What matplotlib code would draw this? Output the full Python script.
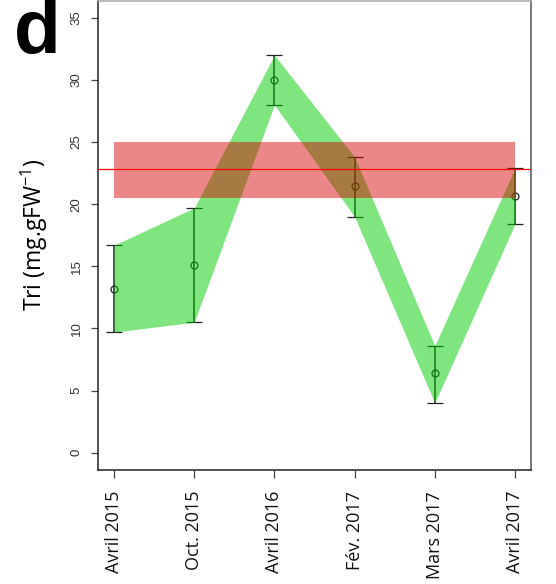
import numpy as np
import matplotlib
matplotlib.use("Agg")
import matplotlib.pyplot as plt
from matplotlib.patches import Rectangle

plt.rcParams['font.family'] = ['Open Sans', 'DejaVu Sans']
plt.rcParams['mathtext.fontset'] = 'custom'
plt.rcParams['mathtext.rm'] = 'Open Sans'

# data
dates = ['Avril 2015', 'Oct. 2015', 'Avril 2016', 'Fév. 2017', 'Mars 2017', 'Avril 2017']
means = [13.2, 15.1, 30.0, 21.5, 6.4, 20.7]
lower = [9.7, 10.5, 28.0, 19.0, 4.0, 18.4]
upper = [16.7, 19.7, 32.0, 23.8, 8.6, 22.9]
ref_low, ref_high = 20.5, 25.0
ref_mean = 22.8

x = np.arange(1, len(dates) + 1)
means = np.array(means)
lower = np.array(lower)
upper = np.array(upper)

fig = plt.figure(figsize=(5.56, 5.84), dpi=100)
ax = fig.add_axes([98/556, 1 - 470/584, 433/556, 469.5/584])

# error bars first (the green band sits on top of them)
ax.errorbar(x, means, yerr=[means - lower, upper - means], fmt='o', mfc='none',
            mec='#222222', ms=5, mew=0.9, ecolor='#222222', elinewidth=1.1,
            capsize=5.5, capthick=1.1, zorder=1)

ax.fill_between(x, lower, upper, color=(0, 0.8, 0), alpha=0.5, lw=0, zorder=2)

ax.add_patch(Rectangle((x[0], ref_low), x[-1] - x[0], ref_high - ref_low,
                       facecolor=(0.84, 0, 0), alpha=0.47, lw=0, zorder=3))
ax.axhline(ref_mean, color='red', lw=0.9, zorder=4)

ax.set_xlim(0.8, 6.2)
ax.set_ylim(-1.4, 36.4)
ax.set_xticks(x)
ax.set_xticklabels(dates, rotation=90, fontsize=13, color='#111111')
ax.set_yticks(np.arange(0, 36, 5))
ax.set_yticklabels([str(v) for v in range(0, 36, 5)], rotation=90, va='center',
                   fontsize=9.5, color='#333333', family='Liberation Sans')
ax.tick_params(axis='x', length=6, width=0.9, pad=9, color='#444444')
ax.tick_params(axis='y', length=5, width=0.9, pad=6, color='#444444')
for s in ['left', 'bottom']:
    ax.spines[s].set_color('#222222')
ax.spines['right'].set_color('#555555')
ax.spines['top'].set_color('#aaaaaa')
for s in ax.spines.values():
    s.set_linewidth(1.1)

ax.set_ylabel('Tri (mg.gFW$^{\\mathregular{-1}}$)', fontsize=16.5)
ax.yaxis.set_label_coords(-0.112, 0.5)

fig.text(14/556, 1 - 53/584, 'd', fontsize=55, fontweight='bold',
         family='Liberation Sans', va='baseline', ha='left')

fig.savefig('out.png', dpi=100)
